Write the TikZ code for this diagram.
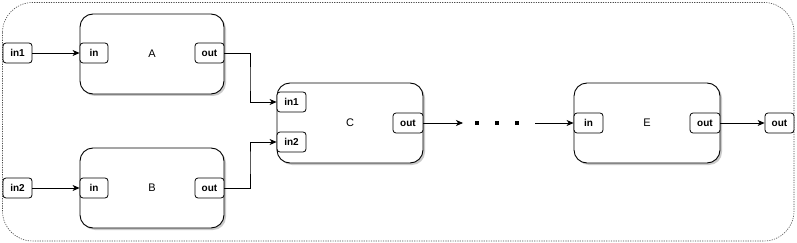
\documentclass[tikz,border=0pt]{standalone}
\usepackage{fontspec}
\setmainfont{Liberation Sans}
\usetikzlibrary{arrows.meta,shadows}
\begin{document}
\begin{tikzpicture}[x=1pt,y=-1pt,
  blockbox/.style={draw=black,line width=0.9pt,rounded corners=13pt,fill=white,
    drop shadow={shadow xshift=2pt,shadow yshift=-2pt,fill=black!35,opacity=0.6}},
  portbox/.style={draw=black,line width=0.8pt,rounded corners=3pt,fill=white,
    font=\bfseries\fontsize{10}{12}\selectfont,inner sep=0pt},
  conn/.style={draw=black,line width=0.8pt,-{Stealth[length=7pt,width=6pt,inset=2pt]}},
  lbl/.style={font=\fontsize{11}{13}\selectfont}
]
\useasboundingbox (0,0) rectangle (797,243);
% outer frame
\draw[black!70,line width=0.6pt,dash pattern=on 1.2pt off 1.2pt,rounded corners=30pt] (2.5,2.5) rectangle (794,241);

% blocks
\path[blockbox] (80,14) rectangle (224,94);
\node[lbl] (A) at (152,54) {A};
\path[blockbox] (80,148) rectangle (224,228);
\node[lbl] (B) at (152,188) {B};
\path[blockbox] (277,83) rectangle (423,163);
\node[lbl] (C) at (350,123) {C};
\path[blockbox] (574,83) rectangle (720,163);
\node[lbl] (E) at (647,123) {E};

% ports
\node[portbox,minimum width=29pt,minimum height=20pt] (in1) at (17.5,53) {in1};
\node[portbox,minimum width=29pt,minimum height=20pt] (in2) at (17.5,188) {in2};
\node[portbox,minimum width=28pt,minimum height=20pt] (Ain) at (94,53) {in};
\node[portbox,minimum width=29pt,minimum height=20pt] (Aout) at (209.5,53) {out};
\node[portbox,minimum width=28pt,minimum height=20pt] (Bin) at (94,188) {in};
\node[portbox,minimum width=29pt,minimum height=20pt] (Bout) at (209.5,188) {out};
\node[portbox,minimum width=29pt,minimum height=20pt] (Cin1) at (291.5,102) {in1};
\node[portbox,minimum width=29pt,minimum height=20pt] (Cin2) at (291.5,142) {in2};
\node[portbox,minimum width=30pt,minimum height=20pt] (Cout) at (408,123) {out};
\node[portbox,minimum width=29pt,minimum height=20pt] (Ein) at (588.5,123) {in};
\node[portbox,minimum width=30pt,minimum height=20pt] (Eout) at (705,123) {out};
\node[portbox,minimum width=29pt,minimum height=20pt] (out) at (779.5,123) {out};

% connectors
\draw[conn] (in1.east) -- (Ain.west);
\draw[conn] (in2.east) -- (Bin.west);
\draw[conn] (Aout.east) -| (250,80) |- (Cin1.west);
\draw[conn] (Bout.east) -| (250,160) |- (Cin2.west);
\coordinate (d1) at (463,123);
\coordinate (d2) at (535,123);
\draw[conn] (Cout.east) -- (d1);
\draw[conn] (d2) -- (Ein.west);
\draw[conn] (Eout.east) -- (out.west);

% dots
\foreach \x in {477,497,517} \fill[black] (\x-1.6,121.4) rectangle (\x+1.6,124.6);
\end{tikzpicture}
\end{document}
